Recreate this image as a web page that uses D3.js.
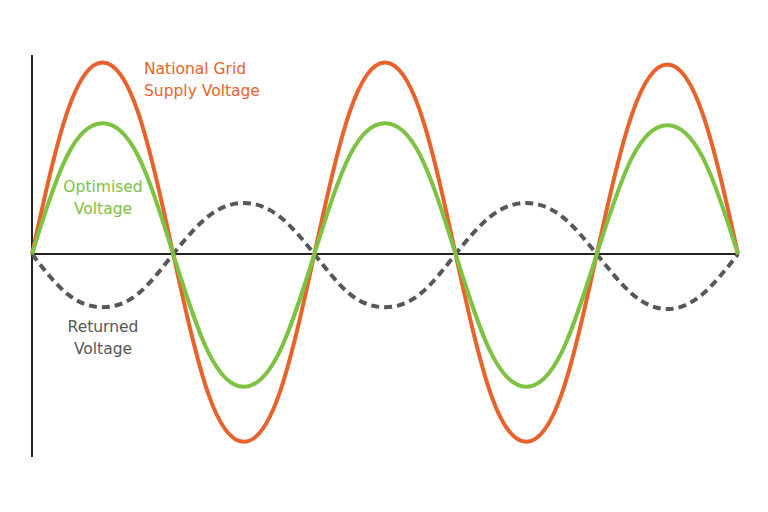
<!DOCTYPE html>
<html><head><meta charset="utf-8">
<script src="https://cdn.jsdelivr.net/npm/d3@7"></script>
<style>html,body{margin:0;padding:0;background:#fff;}svg{display:block;}</style>
</head><body>
<svg id="chart" width="768" height="512"></svg>
<script>
// phase position in eighths of a cycle
const phase = [0,1,2,3,4,5,6,7,8,9,10,11,12,13,14,15,16,17,18,19,20];
const supplyVoltage    = [0, 0.75, 1.01, 0.75, 0, -0.74, -0.99, -0.74, 0, 0.75, 1.01, 0.75, 0, -0.74, -0.99, -0.74, 0, 0.74, 1.00, 0.74, 0];
const optimisedVoltage = [0, 0.52, 0.69, 0.52, 0, -0.52, -0.70, -0.52, 0, 0.52, 0.69, 0.52, 0, -0.52, -0.70, -0.52, 0, 0.51, 0.68, 0.51, 0];
const returnedVoltage  = [0, -0.21, -0.28, -0.21, 0, 0.20, 0.27, 0.20, 0, -0.21, -0.28, -0.21, 0, 0.20, 0.27, 0.20, 0, -0.21, -0.29, -0.21, 0];
const labels = [
  {lines:["National Grid","Supply Voltage"], color:"#e8632b"},
  {lines:["Optimised","Voltage"], color:"#7dc242"},
  {lines:["Returned","Voltage"], color:"#555759"}
];

const svg = d3.select("#chart");
const x = d3.scaleLinear().domain([0,20]).range([32,738]);
const y = d3.scaleLinear().domain([-1.07,1.05]).range([457,55]);

// axes
svg.append("line").attr("x1",x(0)).attr("x2",x(0)).attr("y1",y(1.05)).attr("y2",y(-1.07))
  .attr("stroke","#222").attr("stroke-width",2);
svg.append("line").attr("x1",x(0)).attr("x2",x(20)).attr("y1",y(0)).attr("y2",y(0))
  .attr("stroke","#222").attr("stroke-width",2);

const line = d3.line().x((d,i)=>x(phase[i])).y(d=>y(d)).curve(d3.curveNatural);

svg.append("path").datum(returnedVoltage).attr("d",line).attr("fill","none")
  .attr("stroke","#555759").attr("stroke-width",4).attr("stroke-dasharray","8,5");
svg.append("path").datum(supplyVoltage).attr("d",line).attr("fill","none")
  .attr("stroke","#e8632b").attr("stroke-width",4);
svg.append("path").datum(optimisedVoltage).attr("d",line).attr("fill","none")
  .attr("stroke","#7dc242").attr("stroke-width",4);

const font = "Tahoma, 'DejaVu Sans', sans-serif";
const pos = [
  {x:144, y:74, anchor:"start"},
  {x:103, y:192, anchor:"middle"},
  {x:103, y:332, anchor:"middle"}
];
labels.forEach((l,k)=>{
  const t = svg.append("text").attr("x",pos[k].x).attr("y",pos[k].y)
    .attr("fill",l.color).attr("font-family",font).attr("font-size",15.5)
    .attr("text-anchor",pos[k].anchor);
  l.lines.forEach((s,j)=>{
    t.append("tspan").attr("x",pos[k].x).attr("dy", j===0?0:21.5).text(s);
  });
});
</script>
</body></html>
